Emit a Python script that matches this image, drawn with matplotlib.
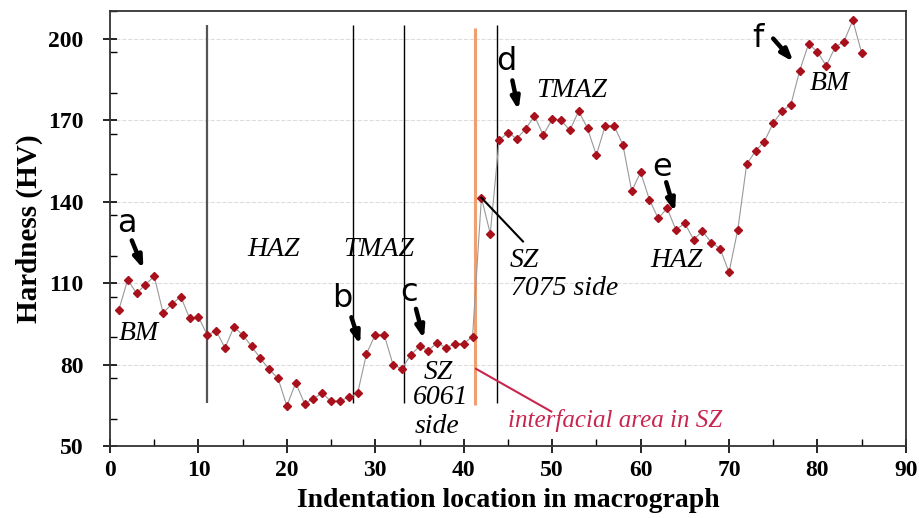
import numpy as np
import matplotlib.pyplot as plt
from matplotlib.ticker import MultipleLocator

# indentation number and measured hardness
location = np.arange(1, 86)
hardness = [100.2, 111.2, 106.2, 109.4, 112.5, 99.0, 102.3, 105.0, 97.0, 97.4,
            90.9, 92.4, 86.1, 93.7, 91.0, 86.7, 82.3, 78.2, 74.9, 64.7,
            73.3, 65.6, 67.4, 69.5, 66.4, 66.7, 67.9, 69.4, 83.9, 91.0,
            91.0, 80.0, 78.4, 83.5, 86.7, 85.1, 88.1, 86.1, 87.7, 87.7,
            90.3, 141.4, 128.2, 162.5, 165.4, 163.1, 166.8, 171.4, 164.5, 170.3,
            170.0, 166.2, 173.3, 166.9, 157.1, 167.9, 167.9, 160.9, 143.8, 150.8,
            140.7, 133.8, 137.5, 129.6, 132.0, 126.0, 129.1, 124.9, 122.7, 113.9,
            129.7, 153.7, 158.6, 162.1, 168.9, 173.3, 175.7, 188.2, 198.0, 195.2,
            189.9, 196.8, 198.9, 206.7, 194.8]

# zone boundaries
zone_lines = [27.5, 33.2, 43.75]
base_line = 11
interface = 41.3

serif = 'Liberation Serif'

fig = plt.figure(figsize=(9.2, 5.18), dpi=100)
ax = fig.add_axes([0.1196, 0.139, 0.865, 0.839])

ax.plot(location, hardness, color='#999999', lw=0.8, zorder=3)
ax.plot(location, hardness, ls='none', marker='D', ms=4.5, color='#a8101c', zorder=4)

ax.vlines(base_line, 66, 205, color='#555555', lw=1.6, zorder=2)
ax.vlines(zone_lines, 66, 205, color='black', lw=1.0, zorder=2)
ax.vlines(interface, 65, 204, color='#f0a070', lw=2.2, zorder=2)

ax.set_xlim(0, 90)
ax.set_ylim(50, 210)
ax.xaxis.set_major_locator(MultipleLocator(10))
ax.xaxis.set_minor_locator(MultipleLocator(5))
ax.set_yticks([50, 80, 110, 140, 170, 200])
ax.yaxis.set_minor_locator(MultipleLocator(15))
ax.tick_params(which='major', direction='inout', length=10, width=1.2)
ax.tick_params(which='minor', direction='in', length=5, width=1.0)
ax.tick_params(axis='y', which='major', pad=14)
ax.tick_params(axis='x', which='major', pad=5)
for lab in ax.get_xticklabels() + ax.get_yticklabels():
    lab.set_fontfamily(serif)
    lab.set_fontweight('bold')
    lab.set_fontsize(17)
for s in ax.spines.values():
    s.set_linewidth(1.3)
    s.set_color('#333333')

for yv in [80, 110, 140, 170, 200]:
    ax.axhline(yv, color='#dddddd', ls='--', lw=0.8, zorder=1)

ax.set_xlabel('Indentation location in macrograph', fontfamily=serif,
              fontweight='bold', fontsize=20, labelpad=5)
ax.set_ylabel('Hardness (HV)', fontfamily=serif, fontweight='bold',
              fontsize=21, labelpad=4)

# zone labels
it = dict(fontfamily=serif, style='italic', fontsize=20, ha='center', va='center')
ax.text(3.3, 91.3, 'BM', **it)
ax.text(18.5, 122.2, 'HAZ', **it)
ax.text(30.4, 122.2, 'TMAZ', **it)
ax.text(37.1, 76.9, 'SZ', **it)
ax.text(37.4, 67.7, '6061', **it)
ax.text(37.0, 57.1, 'side', **it)
ax.text(45.2, 118.3, 'SZ', fontfamily=serif, style='italic', fontsize=20, ha='left', va='center')
ax.text(45.3, 107.8, '7075 side', fontfamily=serif, style='italic', fontsize=20, ha='left', va='center')
ax.text(52.2, 180.9, 'TMAZ', **it)
ax.text(64.1, 118.3, 'HAZ', **it)
ax.text(81.4, 183.4, 'BM', **it)

ax.plot([42, 46.7], [141.4, 125.3], color='black', lw=1.5, zorder=5)
ax.plot([41.4, 49.9], [78.4, 62.7], color='#c8254f', lw=1.5, zorder=5)
ax.text(57.1, 59.3, 'interfacial area in SZ', fontfamily=serif, style='italic',
        fontsize=18, color='#c8254f', ha='center', va='center')

# lettered arrows
letters = ['a', 'b', 'c', 'd', 'e', 'f']
letter_xy = [(1.9, 131.8), (26.3, 104.2), (33.8, 106.6), (44.8, 191.4), (62.4, 152.7), (73.3, 200.0)]
arrow_start = [(2.46, 125.7), (27.3, 97.4), (34.6, 100.5), (45.5, 184.6), (62.9, 147.1), (75.0, 200.0)]
arrow_tip = [(3.78, 115.2), (28.3, 87.3), (35.5, 89.4), (46.2, 173.6), (63.9, 136.1), (77.3, 191.4)]
for lt, p, s, t in zip(letters, letter_xy, arrow_start, arrow_tip):
    ax.text(p[0], p[1], lt, fontfamily='DejaVu Sans', fontsize=23, ha='center', va='center')
    ax.annotate('', xy=t, xytext=s,
                arrowprops=dict(arrowstyle='-|>,head_width=0.25,head_length=0.7',
                                lw=3.2, color='black', shrinkA=0, shrinkB=0))

fig.savefig('out.png', dpi=100)
